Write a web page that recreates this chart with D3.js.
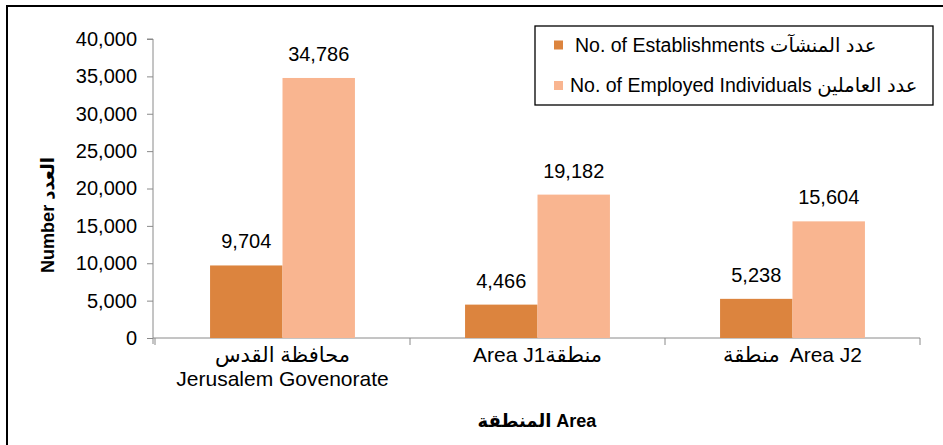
<!DOCTYPE html>
<html>
<head>
<meta charset="utf-8">
<script src="https://cdn.jsdelivr.net/npm/d3@7"></script>
<style>
  body { margin: 0; background: #fff; }
  svg text { font-family: "Liberation Sans", Arial, "DejaVu Sans", sans-serif; fill: #000; }
</style>
</head>
<body>
<svg id="chart" width="943" height="445"></svg>
<script>
const categories = ["Jerusalem", "J1", "J2"];
// each label line is a list of pieces in visual left-to-right order
const categoryLabels = [
  [["محافظة القدس"], ["Jerusalem Govenorate"]],
  [["Area J1", "منطقة"]],
  [["منطقة", "Area J2"]]
];
const xTitle = ["المنطقة", "Area"];
const seriesNames = ["No. of Establishments عدد المنشآت", "No. of Employed Individuals عدد العاملين"];
const establishments = [9704, 4466, 5238];
const employed = [34786, 19182, 15604];
const yTicks = [0, 5000, 10000, 15000, 20000, 25000, 30000, 35000, 40000];
const colors = ["#dc843e", "#f9b590"];

const svg = d3.select("#chart");

// draws pieces side by side, centred on cx
const drawPieces = (parent, pieces, cx, cy, size, weight, gap) => {
  const g = parent.append("g");
  const texts = g.selectAll("text")
    .data(pieces)
    .join("text")
    .attr("y", cy)
    .attr("dy", "0.35em")
    .style("font-size", size)
    .style("font-weight", weight)
    .text(d => d);
  let pos = 0;
  texts.each(function () {
    d3.select(this).attr("x", pos);
    pos += this.getComputedTextLength() + gap;
  });
  const total = pos - gap;
  g.attr("transform", `translate(${cx - total / 2},0)`);
};

// frame
svg.append("path")
  .attr("d", "M7,445V6H943")
  .attr("fill", "none")
  .attr("stroke", "#000")
  .attr("stroke-width", 2);

const x0 = d3.scaleBand()
  .domain(categories)
  .range([155, 920]);

const x1 = d3.scaleBand()
  .domain([0, 1])
  .range([0, x0.bandwidth()])
  .paddingOuter(0.76);

const y = d3.scaleLinear()
  .domain([0, 40000])
  .range([338, 39]);

// y axis
const yAxis = svg.append("g")
  .attr("transform", "translate(153,0)")
  .call(d3.axisLeft(y).tickValues(yTicks).tickSize(6).tickPadding(10).tickFormat(d3.format(",")));
yAxis.select(".domain").attr("stroke", "#8a8a8a").attr("d", "M-6,39H0V344");
yAxis.selectAll(".tick line").attr("stroke", "#8a8a8a");
yAxis.selectAll(".tick text").style("font-size", "20px").attr("fill", "#000");

// x axis
const xAxis = svg.append("g");
xAxis.append("line")
  .attr("x1", 153).attr("x2", x0.range()[1])
  .attr("y1", y(0)).attr("y2", y(0))
  .attr("stroke", "#8a8a8a");
xAxis.selectAll(".xtick")
  .data(categories.map(d => x0(d)).concat([x0.range()[1]]))
  .join("line")
  .attr("class", "xtick")
  .attr("x1", d => d).attr("x2", d => d)
  .attr("y1", y(0)).attr("y2", y(0) + 7)
  .attr("stroke", "#8a8a8a");

// bars
const rows = categories.map((c, i) => ({cat: c, values: [establishments[i], employed[i]]}));
const groups = svg.append("g")
  .selectAll("g")
  .data(rows)
  .join("g")
  .attr("transform", d => `translate(${x0(d.cat)},0)`);

groups.selectAll("rect")
  .data(d => d.values.map((v, k) => ({k, v})))
  .join("rect")
  .attr("x", d => x1(d.k))
  .attr("y", d => y(d.v))
  .attr("width", x1.bandwidth())
  .attr("height", d => y(0) - y(d.v))
  .attr("fill", d => colors[d.k]);

groups.selectAll(".val")
  .data(d => d.values.map((v, k) => ({k, v})))
  .join("text")
  .attr("class", "val")
  .attr("x", d => x1(d.k) + x1.bandwidth() / 2)
  .attr("y", d => y(d.v) - 17)
  .attr("text-anchor", "middle")
  .style("font-size", "20px")
  .text(d => d3.format(",")(d.v));

// category labels
categoryLabels.forEach((lines, i) => {
  const cx = x0(categories[i]) + x0.bandwidth() / 2;
  lines.forEach((pieces, j) => {
    drawPieces(svg, pieces, cx, 355 + j * 24, "21px", "normal", i === 2 ? 10 : 0);
  });
});

// axis titles
drawPieces(svg, xTitle, 537, 421, "18px", "bold", 5);

svg.append("text")
  .attr("transform", "translate(48,215) rotate(-90)")
  .attr("dy", "0.35em")
  .attr("text-anchor", "middle")
  .style("font-size", "18px")
  .style("font-weight", "bold")
  .text("Number  العدد");

// legend
const legend = svg.append("g");
legend.append("rect")
  .attr("x", 535).attr("y", 26)
  .attr("width", 398).attr("height", 79)
  .attr("fill", "#fff")
  .attr("stroke", "#000")
  .attr("stroke-width", 1.3);

const legendItems = legend.selectAll(".item")
  .data(seriesNames)
  .join("g")
  .attr("class", "item")
  .attr("transform", (d, i) => `translate(554,${45 + i * 40.5})`);

legendItems.append("rect")
  .attr("x", 0).attr("y", -4.5)
  .attr("width", 9).attr("height", 9)
  .attr("fill", (d, i) => colors[i]);

legendItems.append("text")
  .attr("x", (d, i) => i === 0 ? 21 : 16)
  .attr("dy", "0.35em")
  .style("font-size", "19.5px")
  .text(d => d);
</script>
</body>
</html>
